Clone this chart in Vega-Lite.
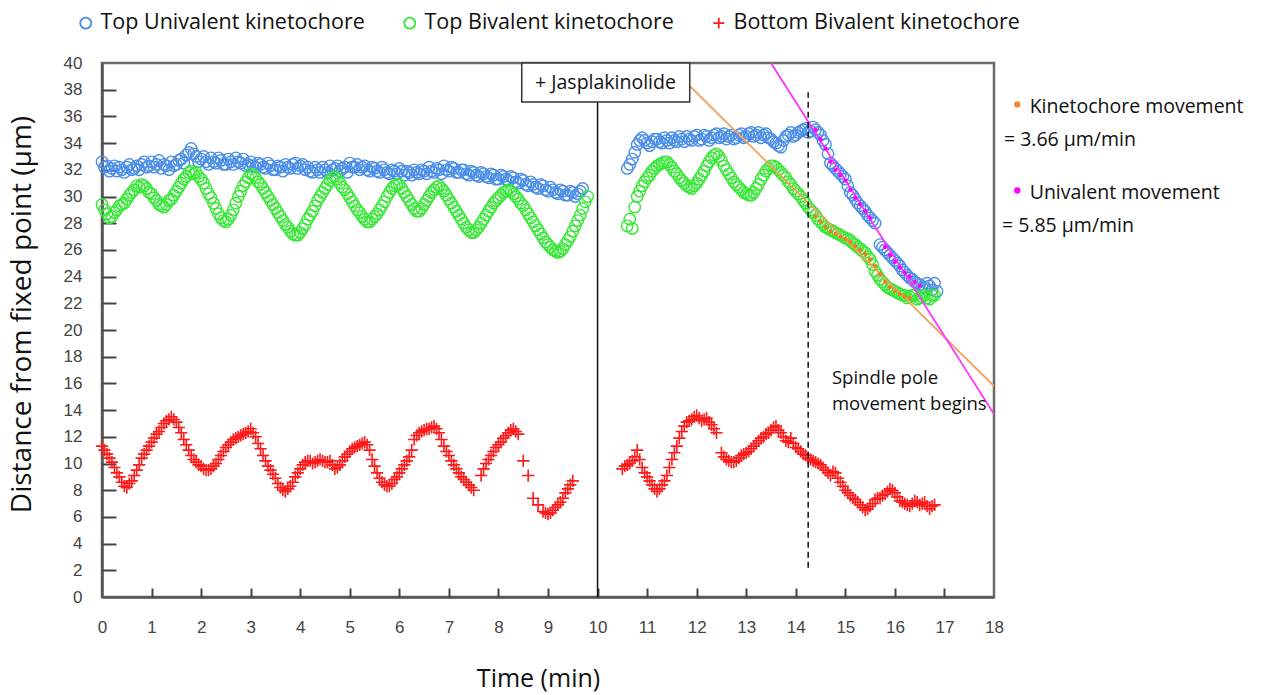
{
  "$schema": "https://vega.github.io/schema/vega-lite/v6.json",
  "width": 892,
  "height": 534,
  "autosize": {"type": "none"},
  "padding": {"left": 102, "top": 63, "right": 291, "bottom": 98},
  "background": "white",
  "config": {
    "view": {"stroke": "#6b6b6b", "strokeWidth": 2.5},
    "axis": {"grid": false, "domainColor": "#555", "domainWidth": 2.5, "tickColor": "#444", "tickWidth": 2, "labelFont": "Liberation Sans", "labelFontSize": 17, "labelColor": "#444", "labelFlush": false, "labelOverlap": false, "titleFont": "Open Sans", "titleFontSize": 25, "titleFontWeight": "normal", "titleColor": "#111"},
    "legend": {"title": null, "orient": "none", "legendX": -27, "legendY": -51, "direction": "horizontal", "columns": 3, "columnPadding": 34, "labelFont": "Open Sans", "labelFontSize": 21.5, "labelColor": "#111", "labelLimit": 400, "symbolSize": 120, "symbolStrokeWidth": 1.8},
    "text": {"font": "Open Sans"}
  },
  "datasets": {
    "uni": [
      {"t":0.0,"y":32.6},{"t":0.1,"y":32.3},{"t":0.2,"y":32.1},{"t":0.3,"y":31.9},{"t":0.4,"y":32.0},{"t":0.5,"y":32.2},{"t":0.6,"y":32.0},{"t":0.7,"y":32.3},{"t":0.8,"y":32.4},{"t":0.9,"y":32.2},
      {"t":1.0,"y":32.6},{"t":1.1,"y":32.4},{"t":1.2,"y":32.1},{"t":1.3,"y":32.3},{"t":1.4,"y":32.6},{"t":1.5,"y":32.4},{"t":1.6,"y":32.8},{"t":1.7,"y":33.1},{"t":1.8,"y":33.6},{"t":1.9,"y":33.0},
      {"t":2.0,"y":32.8},{"t":2.1,"y":32.6},{"t":2.2,"y":32.9},{"t":2.3,"y":32.5},{"t":2.4,"y":32.7},{"t":2.5,"y":32.4},{"t":2.6,"y":32.6},{"t":2.7,"y":32.9},{"t":2.8,"y":32.5},{"t":2.9,"y":32.3},
      {"t":3.0,"y":32.6},{"t":3.1,"y":32.2},{"t":3.2,"y":32.4},{"t":3.3,"y":32.1},{"t":3.4,"y":32.3},{"t":3.5,"y":32.0},{"t":3.6,"y":32.2},{"t":3.7,"y":32.4},{"t":3.8,"y":32.1},{"t":3.9,"y":32.5},
      {"t":4.0,"y":32.3},{"t":4.1,"y":32.0},{"t":4.2,"y":31.9},{"t":4.3,"y":32.2},{"t":4.4,"y":31.8},{"t":4.5,"y":32.0},{"t":4.6,"y":32.3},{"t":4.7,"y":32.1},{"t":4.8,"y":31.9},{"t":4.9,"y":32.2},
      {"t":5.0,"y":32.5},{"t":5.1,"y":32.2},{"t":5.2,"y":32.0},{"t":5.3,"y":32.3},{"t":5.4,"y":31.9},{"t":5.5,"y":32.1},{"t":5.6,"y":31.8},{"t":5.7,"y":32.0},{"t":5.8,"y":31.7},{"t":5.9,"y":31.9},
      {"t":6.0,"y":32.1},{"t":6.1,"y":31.6},{"t":6.2,"y":31.8},{"t":6.3,"y":32.0},{"t":6.4,"y":31.7},{"t":6.5,"y":31.9},{"t":6.6,"y":32.2},{"t":6.7,"y":31.8},{"t":6.8,"y":32.0},{"t":6.9,"y":32.3},
      {"t":7.0,"y":31.9},{"t":7.1,"y":32.1},{"t":7.2,"y":31.8},{"t":7.3,"y":32.0},{"t":7.4,"y":31.6},{"t":7.5,"y":31.8},{"t":7.6,"y":31.5},{"t":7.7,"y":31.7},{"t":7.8,"y":31.4},{"t":7.9,"y":31.6},
      {"t":8.0,"y":31.3},{"t":8.1,"y":31.5},{"t":8.2,"y":31.2},{"t":8.3,"y":31.4},{"t":8.4,"y":31.0},{"t":8.5,"y":31.2},{"t":8.6,"y":30.8},{"t":8.7,"y":30.9},{"t":8.8,"y":30.6},{"t":8.9,"y":30.8},
      {"t":9.0,"y":30.4},{"t":9.1,"y":30.5},{"t":9.2,"y":30.2},{"t":9.3,"y":30.4},{"t":9.4,"y":30.1},{"t":9.5,"y":30.3},{"t":9.6,"y":30.2},{"t":9.7,"y":30.6},
      {"t":0.05,"y":32.2},{"t":0.15,"y":31.9},{"t":0.25,"y":32.3},{"t":0.35,"y":32.2},{"t":0.45,"y":31.8},{"t":0.55,"y":32.4},{"t":0.65,"y":32.1},{"t":0.75,"y":32.0},{"t":0.85,"y":32.6},{"t":0.95,"y":32.3},
      {"t":1.05,"y":32.2},{"t":1.15,"y":32.7},{"t":1.25,"y":32.4},{"t":1.35,"y":32.0},{"t":1.45,"y":32.3},{"t":1.55,"y":32.7},{"t":1.65,"y":32.5},{"t":1.75,"y":33.3},{"t":1.85,"y":33.2},{"t":1.95,"y":32.6},
      {"t":2.05,"y":33.0},{"t":2.15,"y":32.4},{"t":2.25,"y":32.6},{"t":2.35,"y":32.9},{"t":2.45,"y":32.4},{"t":2.55,"y":32.8},{"t":2.65,"y":32.4},{"t":2.75,"y":32.6},{"t":2.85,"y":32.8},{"t":2.95,"y":32.4},
      {"t":3.05,"y":32.3},{"t":3.15,"y":32.5},{"t":3.25,"y":32.2},{"t":3.35,"y":32.5},{"t":3.45,"y":32.0},{"t":3.55,"y":32.3},{"t":3.65,"y":31.9},{"t":3.75,"y":32.2},{"t":3.85,"y":32.4},{"t":3.95,"y":32.1},
      {"t":4.05,"y":32.4},{"t":4.15,"y":32.2},{"t":4.25,"y":31.8},{"t":4.35,"y":32.0},{"t":4.45,"y":32.2},{"t":4.55,"y":31.8},{"t":4.65,"y":32.0},{"t":4.75,"y":32.3},{"t":4.85,"y":32.1},{"t":4.95,"y":31.8},
      {"t":5.05,"y":32.2},{"t":5.15,"y":32.4},{"t":5.25,"y":32.2},{"t":5.35,"y":32.0},{"t":5.45,"y":32.2},{"t":5.55,"y":31.9},{"t":5.65,"y":32.2},{"t":5.75,"y":31.8},{"t":5.85,"y":32.0},{"t":5.95,"y":31.7},
      {"t":6.05,"y":31.9},{"t":6.15,"y":31.9},{"t":6.25,"y":31.6},{"t":6.35,"y":31.8},{"t":6.45,"y":32.0},{"t":6.55,"y":31.7},{"t":6.65,"y":31.9},{"t":6.75,"y":32.1},{"t":6.85,"y":31.7},{"t":6.95,"y":32.0},
      {"t":7.05,"y":32.2},{"t":7.15,"y":31.8},{"t":7.25,"y":32.0},{"t":7.35,"y":31.7},{"t":7.45,"y":31.9},{"t":7.55,"y":31.6},{"t":7.65,"y":31.8},{"t":7.75,"y":31.5},{"t":7.85,"y":31.7},{"t":7.95,"y":31.3},
      {"t":8.05,"y":31.6},{"t":8.15,"y":31.3},{"t":8.25,"y":31.5},{"t":8.35,"y":31.1},{"t":8.45,"y":31.3},{"t":8.55,"y":30.9},{"t":8.65,"y":31.1},{"t":8.75,"y":30.7},{"t":8.85,"y":30.9},{"t":8.95,"y":30.5},
      {"t":9.05,"y":30.7},{"t":9.15,"y":30.3},{"t":9.25,"y":30.5},{"t":9.35,"y":30.1},{"t":9.45,"y":30.4},{"t":9.55,"y":30.0},{"t":9.65,"y":30.4},
      {"t":10.6,"y":32.1},{"t":10.7,"y":32.8},{"t":10.8,"y":33.9},{"t":10.9,"y":34.4},{"t":11.0,"y":34.0},{"t":11.1,"y":34.1},{"t":11.2,"y":34.3},{"t":11.3,"y":34.0},{"t":11.4,"y":34.2},{"t":11.5,"y":34.4},
      {"t":11.6,"y":34.1},{"t":11.7,"y":34.3},{"t":11.8,"y":34.5},{"t":11.9,"y":34.2},{"t":12.0,"y":34.6},{"t":12.1,"y":34.3},{"t":12.2,"y":34.5},{"t":12.3,"y":34.4},{"t":12.4,"y":34.7},{"t":12.5,"y":34.5},
      {"t":12.6,"y":34.3},{"t":12.7,"y":34.6},{"t":12.8,"y":34.4},{"t":12.9,"y":34.7},{"t":13.0,"y":34.5},{"t":13.1,"y":34.8},{"t":13.2,"y":34.6},{"t":13.3,"y":34.4},{"t":13.4,"y":34.7},{"t":13.5,"y":34.3},
      {"t":13.6,"y":34.0},{"t":13.7,"y":33.7},{"t":13.8,"y":34.5},{"t":13.9,"y":34.8},{"t":14.0,"y":34.6},{"t":14.1,"y":34.9},{"t":14.2,"y":35.1},{"t":14.3,"y":34.9},{"t":14.4,"y":35.0},{"t":14.5,"y":34.6},
      {"t":14.6,"y":33.9},{"t":14.7,"y":32.5},{"t":14.8,"y":32.1},{"t":14.9,"y":31.7},{"t":15.0,"y":31.3},{"t":15.1,"y":30.3},{"t":15.2,"y":29.8},{"t":15.3,"y":29.3},{"t":15.4,"y":28.9},{"t":15.5,"y":28.4},
      {"t":15.6,"y":28.0},{"t":15.7,"y":26.4},{"t":15.8,"y":26.0},{"t":15.9,"y":25.6},{"t":16.0,"y":25.2},{"t":16.1,"y":24.8},{"t":16.2,"y":24.3},{"t":16.3,"y":23.9},{"t":16.4,"y":23.6},{"t":16.5,"y":23.4},
      {"t":16.6,"y":23.2},{"t":16.7,"y":23.3},{"t":16.8,"y":23.5},{"t":16.85,"y":22.9},
      {"t":10.65,"y":32.4},{"t":10.75,"y":33.3},{"t":10.85,"y":34.2},{"t":10.95,"y":34.2},{"t":11.05,"y":33.8},{"t":11.15,"y":34.3},{"t":11.25,"y":34.1},{"t":11.35,"y":34.4},{"t":11.45,"y":34.0},{"t":11.55,"y":34.2},
      {"t":11.65,"y":34.5},{"t":11.75,"y":34.1},{"t":11.85,"y":34.3},{"t":11.95,"y":34.5},{"t":12.05,"y":34.2},{"t":12.15,"y":34.6},{"t":12.25,"y":34.2},{"t":12.35,"y":34.6},{"t":12.45,"y":34.4},{"t":12.55,"y":34.7},
      {"t":12.65,"y":34.5},{"t":12.75,"y":34.3},{"t":12.85,"y":34.6},{"t":12.95,"y":34.4},{"t":13.05,"y":34.7},{"t":13.15,"y":34.5},{"t":13.25,"y":34.8},{"t":13.35,"y":34.6},{"t":13.45,"y":34.4},{"t":13.55,"y":34.1},
      {"t":13.65,"y":33.8},{"t":13.75,"y":34.2},{"t":13.85,"y":34.6},{"t":13.95,"y":34.5},{"t":14.05,"y":34.8},{"t":14.15,"y":35.0},{"t":14.25,"y":34.8},{"t":14.35,"y":35.2},{"t":14.45,"y":34.8},{"t":14.55,"y":34.2},
      {"t":14.65,"y":33.2},{"t":14.75,"y":32.3},{"t":14.85,"y":31.9},{"t":14.95,"y":31.5},{"t":15.05,"y":30.8},{"t":15.15,"y":30.1},{"t":15.25,"y":29.5},{"t":15.35,"y":29.1},{"t":15.45,"y":28.6},{"t":15.55,"y":28.2},
      {"t":15.75,"y":26.2},{"t":15.85,"y":25.8},{"t":15.95,"y":25.4},{"t":16.05,"y":25.0},{"t":16.15,"y":24.5},{"t":16.25,"y":24.1},{"t":16.35,"y":23.8},{"t":16.45,"y":23.5},{"t":16.55,"y":23.2},{"t":16.65,"y":23.5},{"t":16.75,"y":23.0}
    ],
    "biv": [
      {"t":0.0,"y":29.4},{"t":0.1,"y":28.7},{"t":0.2,"y":28.5},{"t":0.3,"y":29.0},{"t":0.4,"y":29.4},{"t":0.5,"y":29.8},{"t":0.6,"y":30.3},{"t":0.7,"y":30.8},{"t":0.8,"y":30.9},{"t":0.9,"y":30.6},
      {"t":1.0,"y":30.2},{"t":1.1,"y":29.7},{"t":1.2,"y":29.3},{"t":1.3,"y":29.4},{"t":1.4,"y":29.8},{"t":1.5,"y":30.4},{"t":1.6,"y":31.0},{"t":1.7,"y":31.5},{"t":1.8,"y":31.9},{"t":1.9,"y":31.8},
      {"t":2.0,"y":31.3},{"t":2.1,"y":30.6},{"t":2.2,"y":29.9},{"t":2.3,"y":29.1},{"t":2.4,"y":28.4},{"t":2.5,"y":28.1},{"t":2.6,"y":28.6},{"t":2.7,"y":29.5},{"t":2.8,"y":30.4},{"t":2.9,"y":31.1},
      {"t":3.0,"y":31.7},{"t":3.1,"y":31.4},{"t":3.2,"y":30.9},{"t":3.3,"y":30.3},{"t":3.4,"y":29.7},{"t":3.5,"y":29.1},{"t":3.6,"y":28.5},{"t":3.7,"y":27.9},{"t":3.8,"y":27.4},{"t":3.9,"y":27.1},
      {"t":4.0,"y":27.3},{"t":4.1,"y":27.9},{"t":4.2,"y":28.6},{"t":4.3,"y":29.3},{"t":4.4,"y":30.0},{"t":4.5,"y":30.6},{"t":4.6,"y":31.2},{"t":4.7,"y":31.5},{"t":4.8,"y":31.0},{"t":4.9,"y":30.5},
      {"t":5.0,"y":29.9},{"t":5.1,"y":29.3},{"t":5.2,"y":28.8},{"t":5.3,"y":28.3},{"t":5.4,"y":28.1},{"t":5.5,"y":28.5},{"t":5.6,"y":29.0},{"t":5.7,"y":29.6},{"t":5.8,"y":30.3},{"t":5.9,"y":30.8},
      {"t":6.0,"y":30.9},{"t":6.1,"y":30.3},{"t":6.2,"y":29.7},{"t":6.3,"y":29.1},{"t":6.4,"y":28.9},{"t":6.5,"y":29.4},{"t":6.6,"y":30.0},{"t":6.7,"y":30.5},{"t":6.8,"y":30.8},{"t":6.9,"y":30.4},
      {"t":7.0,"y":29.8},{"t":7.1,"y":29.2},{"t":7.2,"y":28.6},{"t":7.3,"y":28.0},{"t":7.4,"y":27.5},{"t":7.5,"y":27.3},{"t":7.6,"y":27.7},{"t":7.7,"y":28.3},{"t":7.8,"y":28.9},{"t":7.9,"y":29.5},
      {"t":8.0,"y":29.9},{"t":8.1,"y":30.3},{"t":8.2,"y":30.5},{"t":8.3,"y":30.2},{"t":8.4,"y":29.8},{"t":8.5,"y":29.3},{"t":8.6,"y":28.7},{"t":8.7,"y":28.1},{"t":8.8,"y":27.5},{"t":8.9,"y":26.9},
      {"t":9.0,"y":26.4},{"t":9.1,"y":26.0},{"t":9.2,"y":25.8},{"t":9.3,"y":26.1},{"t":9.4,"y":26.7},{"t":9.5,"y":27.4},{"t":9.6,"y":28.2},{"t":9.7,"y":29.1},{"t":9.8,"y":30.0},
      {"t":0.05,"y":29.0},{"t":0.15,"y":28.4},{"t":0.25,"y":28.8},{"t":0.35,"y":29.3},{"t":0.45,"y":29.5},{"t":0.55,"y":30.1},{"t":0.65,"y":30.5},{"t":0.75,"y":30.7},{"t":0.85,"y":30.8},{"t":0.95,"y":30.3},
      {"t":1.05,"y":29.9},{"t":1.15,"y":29.4},{"t":1.25,"y":29.2},{"t":1.35,"y":29.7},{"t":1.45,"y":30.1},{"t":1.55,"y":30.7},{"t":1.65,"y":31.3},{"t":1.75,"y":31.8},{"t":1.85,"y":31.7},{"t":1.95,"y":31.5},
      {"t":2.05,"y":31.0},{"t":2.15,"y":30.2},{"t":2.25,"y":29.5},{"t":2.35,"y":28.7},{"t":2.45,"y":28.2},{"t":2.55,"y":28.3},{"t":2.65,"y":29.0},{"t":2.75,"y":30.0},{"t":2.85,"y":30.8},{"t":2.95,"y":31.4},
      {"t":3.05,"y":31.6},{"t":3.15,"y":31.1},{"t":3.25,"y":30.6},{"t":3.35,"y":30.0},{"t":3.45,"y":29.4},{"t":3.55,"y":28.8},{"t":3.65,"y":28.2},{"t":3.75,"y":27.7},{"t":3.85,"y":27.2},{"t":3.95,"y":27.1},
      {"t":4.05,"y":27.6},{"t":4.15,"y":28.3},{"t":4.25,"y":28.9},{"t":4.35,"y":29.7},{"t":4.45,"y":30.3},{"t":4.55,"y":30.9},{"t":4.65,"y":31.4},{"t":4.75,"y":31.3},{"t":4.85,"y":30.7},{"t":4.95,"y":30.2},
      {"t":5.05,"y":29.6},{"t":5.15,"y":29.0},{"t":5.25,"y":28.5},{"t":5.35,"y":28.1},{"t":5.45,"y":28.3},{"t":5.55,"y":28.7},{"t":5.65,"y":29.3},{"t":5.75,"y":30.0},{"t":5.85,"y":30.6},{"t":5.95,"y":30.9},
      {"t":6.05,"y":30.6},{"t":6.15,"y":30.0},{"t":6.25,"y":29.4},{"t":6.35,"y":28.9},{"t":6.45,"y":29.1},{"t":6.55,"y":29.7},{"t":6.65,"y":30.3},{"t":6.75,"y":30.7},{"t":6.85,"y":30.6},{"t":6.95,"y":30.1},
      {"t":7.05,"y":29.5},{"t":7.15,"y":28.9},{"t":7.25,"y":28.3},{"t":7.35,"y":27.7},{"t":7.45,"y":27.3},{"t":7.55,"y":27.5},{"t":7.65,"y":28.0},{"t":7.75,"y":28.6},{"t":7.85,"y":29.2},{"t":7.95,"y":29.7},
      {"t":8.05,"y":30.1},{"t":8.15,"y":30.4},{"t":8.25,"y":30.4},{"t":8.35,"y":30.0},{"t":8.45,"y":29.5},{"t":8.55,"y":29.0},{"t":8.65,"y":28.4},{"t":8.75,"y":27.8},{"t":8.85,"y":27.2},{"t":8.95,"y":26.6},
      {"t":9.05,"y":26.2},{"t":9.15,"y":25.9},{"t":9.25,"y":25.9},{"t":9.35,"y":26.4},{"t":9.45,"y":27.0},{"t":9.55,"y":27.8},{"t":9.65,"y":28.6},{"t":9.75,"y":29.6},
      {"t":10.6,"y":27.8},{"t":10.65,"y":28.3},{"t":10.7,"y":27.6},{"t":10.8,"y":30.0},{"t":10.9,"y":30.8},{"t":11.0,"y":31.4},{"t":11.1,"y":31.9},{"t":11.2,"y":32.3},{"t":11.3,"y":32.5},{"t":11.4,"y":32.6},
      {"t":11.5,"y":32.2},{"t":11.6,"y":31.7},{"t":11.7,"y":31.2},{"t":11.8,"y":30.8},{"t":11.9,"y":30.6},{"t":12.0,"y":31.0},{"t":12.1,"y":31.6},{"t":12.2,"y":32.3},{"t":12.3,"y":32.9},{"t":12.4,"y":33.2},
      {"t":12.5,"y":32.7},{"t":12.6,"y":32.0},{"t":12.7,"y":31.4},{"t":12.8,"y":30.9},{"t":12.9,"y":30.5},{"t":13.0,"y":30.2},{"t":13.1,"y":30.1},{"t":13.2,"y":30.6},{"t":13.3,"y":31.3},{"t":13.4,"y":31.9},
      {"t":13.5,"y":32.3},{"t":13.6,"y":32.2},{"t":13.7,"y":31.8},{"t":13.8,"y":31.4},{"t":13.9,"y":30.9},{"t":14.0,"y":30.4},{"t":14.1,"y":30.0},{"t":14.2,"y":29.5},{"t":14.3,"y":29.0},{"t":14.4,"y":28.6},
      {"t":14.5,"y":28.1},{"t":14.6,"y":27.7},{"t":14.7,"y":27.5},{"t":14.8,"y":27.3},{"t":14.9,"y":27.1},{"t":15.0,"y":26.9},{"t":15.1,"y":26.7},{"t":15.2,"y":26.4},{"t":15.3,"y":26.1},{"t":15.4,"y":25.8},
      {"t":15.5,"y":25.3},{"t":15.6,"y":24.4},{"t":15.7,"y":23.8},{"t":15.8,"y":23.4},{"t":15.9,"y":23.1},{"t":16.0,"y":22.9},{"t":16.1,"y":22.7},{"t":16.2,"y":22.6},{"t":16.3,"y":22.5},{"t":16.4,"y":22.6},
      {"t":16.5,"y":22.4},{"t":16.6,"y":22.6},{"t":16.7,"y":22.3},{"t":16.8,"y":22.6},
      {"t":10.75,"y":29.2},{"t":10.85,"y":30.4},{"t":10.95,"y":31.1},{"t":11.05,"y":31.6},{"t":11.15,"y":32.1},{"t":11.25,"y":32.4},{"t":11.35,"y":32.6},{"t":11.45,"y":32.4},{"t":11.55,"y":31.9},{"t":11.65,"y":31.4},
      {"t":11.75,"y":31.0},{"t":11.85,"y":30.7},{"t":11.95,"y":30.8},{"t":12.05,"y":31.3},{"t":12.15,"y":31.9},{"t":12.25,"y":32.6},{"t":12.35,"y":33.1},{"t":12.45,"y":33.0},{"t":12.55,"y":32.3},{"t":12.65,"y":31.7},
      {"t":12.75,"y":31.1},{"t":12.85,"y":30.7},{"t":12.95,"y":30.3},{"t":13.05,"y":30.1},{"t":13.15,"y":30.3},{"t":13.25,"y":30.9},{"t":13.35,"y":31.6},{"t":13.45,"y":32.1},{"t":13.55,"y":32.3},{"t":13.65,"y":32.0},
      {"t":13.75,"y":31.6},{"t":13.85,"y":31.1},{"t":13.95,"y":30.6},{"t":14.05,"y":30.2},{"t":14.15,"y":29.7},{"t":14.25,"y":29.2},{"t":14.35,"y":28.8},{"t":14.45,"y":28.3},{"t":14.55,"y":27.9},{"t":14.65,"y":27.6},
      {"t":14.75,"y":27.4},{"t":14.85,"y":27.2},{"t":14.95,"y":27.0},{"t":15.05,"y":26.8},{"t":15.15,"y":26.5},{"t":15.25,"y":26.2},{"t":15.35,"y":25.9},{"t":15.45,"y":25.5},{"t":15.55,"y":24.9},{"t":15.65,"y":24.1},
      {"t":15.75,"y":23.6},{"t":15.85,"y":23.2},{"t":15.95,"y":23.0},{"t":16.05,"y":22.8},{"t":16.15,"y":22.6},{"t":16.25,"y":22.4},{"t":16.35,"y":22.6},{"t":16.45,"y":22.3},{"t":16.55,"y":22.5},{"t":16.65,"y":22.4},{"t":16.75,"y":22.6}
    ],
    "bot": [
      {"t":0.0,"y":11.3},{"t":0.1,"y":10.7},{"t":0.2,"y":10.1},{"t":0.3,"y":9.3},{"t":0.4,"y":8.6},{"t":0.5,"y":8.2},{"t":0.6,"y":8.7},{"t":0.7,"y":9.5},{"t":0.8,"y":10.4},{"t":0.9,"y":11.0},
      {"t":1.0,"y":11.6},{"t":1.1,"y":12.2},{"t":1.2,"y":12.7},{"t":1.3,"y":13.2},{"t":1.4,"y":13.5},{"t":1.5,"y":13.1},{"t":1.6,"y":12.3},{"t":1.7,"y":11.4},{"t":1.8,"y":10.6},{"t":1.9,"y":10.1},
      {"t":2.0,"y":9.8},{"t":2.1,"y":9.5},{"t":2.2,"y":9.6},{"t":2.3,"y":10.0},{"t":2.4,"y":10.6},{"t":2.5,"y":11.2},{"t":2.6,"y":11.6},{"t":2.7,"y":11.9},{"t":2.8,"y":12.1},{"t":2.9,"y":12.3},
      {"t":3.0,"y":12.6},{"t":3.1,"y":12.0},{"t":3.2,"y":11.1},{"t":3.3,"y":10.2},{"t":3.4,"y":9.5},{"t":3.5,"y":8.9},{"t":3.6,"y":8.2},{"t":3.7,"y":7.9},{"t":3.8,"y":8.3},{"t":3.9,"y":9.0},
      {"t":4.0,"y":9.6},{"t":4.1,"y":10.1},{"t":4.2,"y":10.2},{"t":4.3,"y":10.1},{"t":4.4,"y":10.3},{"t":4.5,"y":10.1},{"t":4.6,"y":10.2},{"t":4.7,"y":9.6},{"t":4.8,"y":9.9},{"t":4.9,"y":10.5},
      {"t":5.0,"y":10.9},{"t":5.1,"y":11.2},{"t":5.2,"y":11.4},{"t":5.3,"y":11.6},{"t":5.4,"y":11.0},{"t":5.5,"y":9.8},{"t":5.6,"y":8.9},{"t":5.7,"y":8.4},{"t":5.8,"y":8.3},{"t":5.9,"y":8.8},
      {"t":6.0,"y":9.3},{"t":6.1,"y":9.9},{"t":6.2,"y":10.5},{"t":6.3,"y":11.8},{"t":6.4,"y":12.3},{"t":6.5,"y":12.5},{"t":6.6,"y":12.6},{"t":6.7,"y":12.8},{"t":6.8,"y":12.3},{"t":6.9,"y":11.3},
      {"t":7.0,"y":10.6},{"t":7.1,"y":9.9},{"t":7.2,"y":9.3},{"t":7.3,"y":8.8},{"t":7.4,"y":8.4},{"t":7.5,"y":8.0},{"t":7.7,"y":9.6},{"t":7.8,"y":10.3},{"t":7.9,"y":10.9},
      {"t":8.0,"y":11.4},{"t":8.1,"y":11.9},{"t":8.2,"y":12.3},{"t":8.3,"y":12.6},{"t":8.4,"y":12.2},{"t":8.5,"y":10.2},{"t":8.6,"y":9.1},{"t":8.7,"y":7.4},{"t":8.8,"y":6.9},{"t":8.9,"y":6.4},
      {"t":9.0,"y":6.2},{"t":9.1,"y":6.5},{"t":9.2,"y":6.9},{"t":9.3,"y":7.4},{"t":9.4,"y":8.1},{"t":9.5,"y":8.7},
      {"t":0.05,"y":11.0},{"t":0.15,"y":10.4},{"t":0.25,"y":9.7},{"t":0.35,"y":9.0},{"t":0.45,"y":8.3},{"t":0.55,"y":8.5},{"t":0.65,"y":9.1},{"t":0.75,"y":9.9},{"t":0.85,"y":10.7},{"t":0.95,"y":11.3},
      {"t":1.05,"y":11.9},{"t":1.15,"y":12.4},{"t":1.25,"y":13.0},{"t":1.35,"y":13.3},{"t":1.45,"y":13.3},{"t":1.55,"y":12.7},{"t":1.65,"y":11.8},{"t":1.75,"y":11.0},{"t":1.85,"y":10.3},{"t":1.95,"y":9.9},
      {"t":2.05,"y":9.6},{"t":2.15,"y":9.5},{"t":2.25,"y":9.8},{"t":2.35,"y":10.3},{"t":2.45,"y":10.9},{"t":2.55,"y":11.4},{"t":2.65,"y":11.8},{"t":2.75,"y":12.0},{"t":2.85,"y":12.2},{"t":2.95,"y":12.4},
      {"t":3.05,"y":12.3},{"t":3.15,"y":11.5},{"t":3.25,"y":10.6},{"t":3.35,"y":9.8},{"t":3.45,"y":9.2},{"t":3.55,"y":8.5},{"t":3.65,"y":8.0},{"t":3.75,"y":8.1},{"t":3.85,"y":8.6},{"t":3.95,"y":9.3},
      {"t":4.05,"y":9.9},{"t":4.15,"y":10.2},{"t":4.25,"y":10.0},{"t":4.35,"y":10.2},{"t":4.45,"y":10.2},{"t":4.55,"y":10.1},{"t":4.65,"y":9.9},{"t":4.75,"y":9.7},{"t":4.85,"y":10.2},{"t":4.95,"y":10.7},
      {"t":5.05,"y":11.1},{"t":5.15,"y":11.3},{"t":5.25,"y":11.5},{"t":5.35,"y":11.4},{"t":5.45,"y":10.3},{"t":5.55,"y":9.3},{"t":5.65,"y":8.6},{"t":5.75,"y":8.3},{"t":5.85,"y":8.5},{"t":5.95,"y":9.0},
      {"t":6.05,"y":9.6},{"t":6.15,"y":10.2},{"t":6.25,"y":11.0},{"t":6.35,"y":12.1},{"t":6.45,"y":12.4},{"t":6.55,"y":12.6},{"t":6.65,"y":12.7},{"t":6.75,"y":12.6},{"t":6.85,"y":11.8},{"t":6.95,"y":10.9},
      {"t":7.05,"y":10.2},{"t":7.15,"y":9.6},{"t":7.25,"y":9.0},{"t":7.35,"y":8.6},{"t":7.45,"y":8.2},{"t":7.65,"y":9.1},{"t":7.75,"y":10.0},{"t":7.85,"y":10.6},{"t":7.95,"y":11.2},
      {"t":8.05,"y":11.6},{"t":8.15,"y":12.1},{"t":8.25,"y":12.5},{"t":8.35,"y":12.4},{"t":8.95,"y":6.3},{"t":9.05,"y":6.3},{"t":9.15,"y":6.7},{"t":9.25,"y":7.1},{"t":9.35,"y":7.8},{"t":9.45,"y":8.4},
      {"t":10.5,"y":9.6},{"t":10.6,"y":9.9},{"t":10.7,"y":10.2},{"t":10.8,"y":11.0},{"t":10.9,"y":9.7},{"t":11.0,"y":9.0},{"t":11.1,"y":8.4},{"t":11.2,"y":7.9},{"t":11.3,"y":8.4},{"t":11.4,"y":9.1},
      {"t":11.5,"y":10.3},{"t":11.6,"y":11.3},{"t":11.7,"y":12.4},{"t":11.8,"y":13.1},{"t":11.9,"y":13.3},{"t":12.0,"y":13.6},{"t":12.1,"y":13.2},{"t":12.2,"y":13.4},{"t":12.3,"y":12.9},{"t":12.4,"y":12.3},
      {"t":12.5,"y":10.8},{"t":12.6,"y":10.3},{"t":12.7,"y":10.1},{"t":12.8,"y":10.2},{"t":12.9,"y":10.6},{"t":13.0,"y":10.8},{"t":13.1,"y":11.1},{"t":13.2,"y":11.5},{"t":13.3,"y":11.9},{"t":13.4,"y":12.2},
      {"t":13.5,"y":12.5},{"t":13.6,"y":12.8},{"t":13.7,"y":12.3},{"t":13.8,"y":11.7},{"t":13.9,"y":11.9},{"t":14.0,"y":11.2},{"t":14.1,"y":10.9},{"t":14.2,"y":10.6},{"t":14.3,"y":10.3},{"t":14.4,"y":10.1},
      {"t":14.5,"y":9.9},{"t":14.6,"y":9.5},{"t":14.7,"y":9.1},{"t":14.8,"y":9.3},{"t":14.9,"y":8.6},{"t":15.0,"y":8.0},{"t":15.1,"y":7.6},{"t":15.2,"y":7.3},{"t":15.3,"y":6.9},{"t":15.4,"y":6.5},
      {"t":15.5,"y":6.8},{"t":15.6,"y":7.3},{"t":15.7,"y":7.4},{"t":15.8,"y":7.7},{"t":15.9,"y":8.1},{"t":16.0,"y":7.8},{"t":16.1,"y":7.2},{"t":16.2,"y":7.0},{"t":16.3,"y":6.8},{"t":16.4,"y":7.2},
      {"t":16.5,"y":6.9},{"t":16.6,"y":7.1},{"t":16.7,"y":6.6},{"t":16.8,"y":6.9},
      {"t":10.55,"y":9.8},{"t":10.65,"y":10.0},{"t":10.75,"y":10.5},{"t":10.85,"y":10.3},{"t":10.95,"y":9.3},{"t":11.05,"y":8.7},{"t":11.15,"y":8.1},{"t":11.25,"y":8.1},{"t":11.35,"y":8.7},{"t":11.45,"y":9.7},
      {"t":11.55,"y":10.8},{"t":11.65,"y":11.9},{"t":11.75,"y":12.8},{"t":11.85,"y":13.2},{"t":11.95,"y":13.5},{"t":12.05,"y":13.4},{"t":12.15,"y":13.3},{"t":12.25,"y":13.1},{"t":12.35,"y":12.6},{"t":12.55,"y":10.5},
      {"t":12.65,"y":10.2},{"t":12.75,"y":10.1},{"t":12.85,"y":10.4},{"t":12.95,"y":10.7},{"t":13.05,"y":10.9},{"t":13.15,"y":11.3},{"t":13.25,"y":11.7},{"t":13.35,"y":12.0},{"t":13.45,"y":12.3},{"t":13.55,"y":12.7},
      {"t":13.65,"y":12.5},{"t":13.75,"y":12.0},{"t":13.85,"y":11.6},{"t":13.95,"y":11.5},{"t":14.05,"y":11.1},{"t":14.15,"y":10.7},{"t":14.25,"y":10.4},{"t":14.35,"y":10.2},{"t":14.45,"y":10.0},{"t":14.55,"y":9.7},
      {"t":14.65,"y":9.3},{"t":14.75,"y":9.4},{"t":14.85,"y":8.9},{"t":14.95,"y":8.3},{"t":15.05,"y":7.8},{"t":15.15,"y":7.4},{"t":15.25,"y":7.1},{"t":15.35,"y":6.7},{"t":15.45,"y":6.6},{"t":15.55,"y":7.0},
      {"t":15.65,"y":7.4},{"t":15.75,"y":7.6},{"t":15.85,"y":7.9},{"t":15.95,"y":8.0},{"t":16.05,"y":7.5},{"t":16.15,"y":7.1},{"t":16.25,"y":6.9},{"t":16.35,"y":7.0},{"t":16.45,"y":7.1},{"t":16.55,"y":7.0},{"t":16.65,"y":6.8},{"t":16.75,"y":6.8}
    ],
    "kdots": [
      {"t":14.4,"y":28.5},{"t":14.5,"y":28.1},{"t":14.6,"y":27.7},{"t":14.7,"y":27.4},{"t":14.8,"y":27.2},{"t":14.9,"y":27.0},{"t":15.0,"y":26.8},{"t":15.1,"y":26.6},{"t":15.2,"y":26.3},{"t":15.3,"y":26.0},
      {"t":15.4,"y":25.7},{"t":15.5,"y":25.3},{"t":15.6,"y":24.8},{"t":15.7,"y":24.2},{"t":15.8,"y":23.6},{"t":15.9,"y":23.2},{"t":16.0,"y":22.9},{"t":16.1,"y":22.7},{"t":16.2,"y":22.5},{"t":16.3,"y":22.4}
    ],
    "udots": [
      {"t":14.4,"y":35.0},{"t":14.5,"y":34.3},{"t":14.6,"y":33.6},{"t":14.7,"y":32.6},{"t":14.8,"y":32.0},{"t":14.9,"y":31.6},{"t":15.0,"y":31.2},{"t":15.1,"y":30.5},{"t":15.2,"y":29.9},{"t":15.3,"y":29.4},
      {"t":15.4,"y":28.9},{"t":15.5,"y":28.4},{"t":15.8,"y":26.2},{"t":15.9,"y":25.6},{"t":16.0,"y":25.1},{"t":16.1,"y":24.7},{"t":16.2,"y":24.3},{"t":16.3,"y":24.0},{"t":16.4,"y":23.6},{"t":16.5,"y":23.3}
    ]
  },
  "resolve": {"axis": {"x": "independent", "y": "independent"}},
  "layer": [
    {
      "encoding": {
        "x": {"field": "t", "type": "quantitative", "scale": {"domain": [0, 18], "nice": false, "zero": false},
          "axis": {"title": "Time (min)", "values": [0,1,2,3,4,5,6,7,8,9,10,11,12,13,14,15,16,17,18], "ticks": false, "labelPadding": 22, "labelOverlap": false, "titleX": 436, "titleY": 81, "titleBaseline": "middle"}},
        "y": {"field": "y", "type": "quantitative", "scale": {"domain": [0, 40], "nice": false, "zero": false},
          "axis": {"title": "Distance from fixed point (µm)", "titleFontSize": 28, "values": [0,2,4,6,8,10,12,14,16,18,20,22,24,26,28,30,32,34,36,38,40], "ticks": false, "labelPadding": 20, "labelOverlap": false, "titleX": -80, "titleY": 251, "titleBaseline": "middle"}}
      },
      "layer": [
        {
          "data": {"name": "uni"},
          "mark": {"type": "point", "filled": false, "size": 130, "strokeWidth": 1.4, "opacity": 1},
          "encoding": {
            "color": {"datum": "Top Univalent kinetochore", "type": "nominal",
              "scale": {"domain": ["Top Univalent kinetochore", "Top Bivalent kinetochore", "Bottom Bivalent kinetochore"], "range": ["#4a8ee8", "#33e833", "#ff1a1a"]}},
            "shape": {"datum": "Top Univalent kinetochore", "type": "nominal",
              "scale": {"domain": ["Top Univalent kinetochore", "Top Bivalent kinetochore", "Bottom Bivalent kinetochore"], "range": ["circle", "circle", "M-1,0L1,0M0,-1L0,1"]}}
          }
        },
        {
          "data": {"name": "biv"},
          "mark": {"type": "point", "filled": false, "size": 130, "strokeWidth": 1.4, "opacity": 1},
          "encoding": {
            "color": {"datum": "Top Bivalent kinetochore", "type": "nominal"},
            "shape": {"datum": "Top Bivalent kinetochore", "type": "nominal"}
          }
        },
        {
          "data": {"name": "bot"},
          "mark": {"type": "point", "filled": false, "size": 150, "strokeWidth": 1.6, "opacity": 1},
          "encoding": {
            "color": {"datum": "Bottom Bivalent kinetochore", "type": "nominal"},
            "shape": {"datum": "Bottom Bivalent kinetochore", "type": "nominal"}
          }
        },
        {
          "data": {"values": [{"t": 11.39, "y": 40}, {"t": 18, "y": 15.8}]},
          "mark": {"type": "line", "color": "#f5a05a", "strokeWidth": 1.8, "clip": true}
        },
        {
          "data": {"values": [{"t": 13.5, "y": 40}, {"t": 18, "y": 13.7}]},
          "mark": {"type": "line", "color": "#ff33ff", "strokeWidth": 1.8, "clip": true}
        },
        {
          "data": {"name": "kdots"},
          "mark": {"type": "point", "shape": "circle", "filled": true, "size": 18, "color": "#f07d1e", "opacity": 1}
        },
        {
          "data": {"name": "udots"},
          "mark": {"type": "point", "shape": "circle", "filled": true, "size": 18, "color": "#ff00ff", "opacity": 1}
        },
        {
          "data": {"values": [{"t": 10, "y": 0, "y2": 37.08}]},
          "mark": {"type": "rule", "color": "#111", "strokeWidth": 1.5},
          "encoding": {"y2": {"field": "y2"}}
        },
        {
          "data": {"values": [{"t": 14.25, "y": 2.2, "y2": 37.8}]},
          "mark": {"type": "rule", "color": "#111", "strokeWidth": 1.5, "strokeDash": [6, 4]},
          "encoding": {"y2": {"field": "y2"}}
        },
        {
          "data": {"values": [{"t": 8.47, "t2": 11.86, "y": 37.08, "y2": 40}]},
          "mark": {"type": "rect", "fill": "white", "stroke": "#333", "strokeWidth": 1.5},
          "encoding": {"x2": {"field": "t2"}, "y2": {"field": "y2"}}
        },
        {
          "data": {"values": [{"t": 10.16, "y": 38.5, "label": "+ Jasplakinolide"}]},
          "mark": {"type": "text", "fontSize": 19.5, "color": "#111", "align": "center", "baseline": "middle"},
          "encoding": {"text": {"field": "label"}}
        },
        {
          "data": {"values": [{"t": 14.73, "y": 16.4, "label": "Spindle pole"}, {"t": 14.73, "y": 14.45, "label": "movement begins"}]},
          "mark": {"type": "text", "fontSize": 18.5, "color": "#111", "align": "left", "baseline": "middle"},
          "encoding": {"text": {"field": "label"}}
        },
        {
          "data": {"values": [{"t": 18.72, "y": 36.7, "label": "Kinetochore movement"}, {"t": 18.2, "y": 34.2, "label": "= 3.66 µm/min"}, {"t": 18.72, "y": 30.25, "label": "Univalent movement"}, {"t": 18.16, "y": 27.8, "label": "= 5.85 µm/min"}]},
          "mark": {"type": "text", "fontSize": 19.5, "color": "#111", "align": "left", "baseline": "middle"},
          "encoding": {"text": {"field": "label"}}
        },
        {
          "data": {"values": [{"t": 18.47, "y": 36.9}]},
          "mark": {"type": "point", "shape": "circle", "filled": true, "size": 40, "color": "#f08a30", "opacity": 1, "clip": false}
        },
        {
          "data": {"values": [{"t": 18.47, "y": 30.45}]},
          "mark": {"type": "point", "shape": "circle", "filled": true, "size": 40, "color": "#ff00ff", "opacity": 1, "clip": false}
        }
      ]
    },
    {
      "data": {"values": [{"t": 0, "y": 0}]},
      "mark": {"type": "point", "opacity": 0},
      "encoding": {
        "x": {"field": "t", "type": "quantitative",
          "axis": {"orient": "top", "offset": -534, "title": null, "labels": false, "domain": false, "ticks": true, "tickSize": 9, "values": [1,2,3,4,5,6,7,8,9,10,11,12,13,14,15,16,17]}},
        "y": {"field": "y", "type": "quantitative",
          "axis": {"orient": "right", "offset": -892, "title": null, "labels": false, "domain": false, "ticks": true, "tickSize": 14, "values": [2,4,6,8,10,12,14,16,18,20,22,24,26,28,30,32,34,36,38]}}
      }
    }
  ]
}
